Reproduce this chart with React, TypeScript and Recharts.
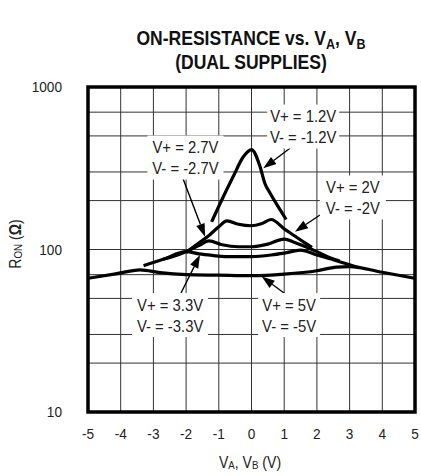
import React from 'react';
import {
  LineChart,
  Line,
  XAxis,
  YAxis,
  CartesianGrid,
  ReferenceArea,
  ReferenceLine,
  ReferenceDot,
} from 'recharts';

// ---------- axis ticks ----------
const xTicks = [-5, -4, -3, -2, -1, 0, 1, 2, 3, 4, 5];
const yTicks = [10, 20, 30, 40, 50, 60, 70, 80, 90, 100, 200, 300, 400, 500, 600, 700, 800, 900, 1000];
const yLabelTicks = [10, 100, 1000];

// ---------- series (V_A in volts, R_ON in ohms) ----------
const v12 = [-1.22, -0.96, -0.56, -0.25, 0, 0.26, 0.41, 0.57, 0.82, 1.06];
const r12 = [148, 192, 281, 372, 412, 324, 255, 222, 183, 153];

const v20 = [-2, -1.6, -1.3, -1.0, -0.75, -0.4, 0, 0.3, 0.6, 1.0, 1.3, 1.6, 1.85];
const r20 = [96, 110, 122, 138, 150, 143, 140, 144, 153, 134, 122, 111, 103];

const v27 = [-2.7, -2.3, -2.0, -1.6, -1.3, -0.9, -0.4, 0, 0.5, 1.0, 1.3, 1.6, 2.0, 2.4, 2.7];
const r27 = [87, 92, 97, 106, 113, 107, 104, 104, 108, 116, 111, 105, 97, 89, 85];

const v33 = [-3.3, -2.7, -2.0, -1.6, -1.2, -0.8, 0, 0.6, 1.0, 1.5, 2.0, 2.5, 3.0, 3.3];
const r33 = [79.5, 87, 97, 94, 92, 90.5, 90.5, 92.5, 95, 99, 92.5, 86.5, 80.5, 77];

const v50 = [-5, -4.2, -3.4, -2.8, -2, -1, 0, 1, 2, 2.6, 3.0, 4, 5];
const r50 = [66.5, 70.5, 75, 72, 70, 69.5, 69, 70.5, 74, 78, 78.5, 72.4, 66.5];

// ---------- annotations ----------
const labelTop = ['V+ = 1.2V', 'V+ = 2.7V', 'V+ = 2V', 'V+ = 3.3V', 'V+ = 5V'];
const labelBottom = ['V- = -1.2V', 'V- = -2.7V', 'V- = -2V', 'V- = -3.3V', 'V- = -5V'];
const labelV = [1.58, -2.02, 3.1, -2.49, 1.15];
const labelR = [571, 368, 209, 39.5, 39.5];
const labelW = [72, 76, 66, 76, 62];

const arrowTailV = [1.177, -2.125, 2.095, -2.156, 0.994];
const arrowTailR = [420, 283, 163, 54, 54];
const arrowTipV = [0.361, -1.42, 1.33, -1.575, 0.312];
const arrowTipR = [316, 120, 128.7, 92.5, 68.1];

const FONT = "'Liberation Sans', Arial, sans-serif";

const toRows = (vs: number[], rs: number[]) => vs.map((v, i) => ({ v, r: rs[i] }));

const series = [
  { name: '1.2V', data: toRows(v12, r12) },
  { name: '2V', data: toRows(v20, r20) },
  { name: '2.7V', data: toRows(v27, r27) },
  { name: '3.3V', data: toRows(v33, r33) },
  { name: '5V', data: toRows(v50, r50) },
];

const CText = (props: any) => {
  const { x, y, anchor = 'middle', size = 16, sx = 0.88, rotate = 0, weight = 'normal', children } = props;
  return (
    <text
      transform={`translate(${x},${y}) rotate(${rotate}) scale(${sx},1)`}
      x={0}
      y={0}
      textAnchor={anchor}
      dominantBaseline="central"
      fontSize={size}
      fontWeight={weight}
      fontFamily={FONT}
      fill="#222"
    >
      {children}
    </text>
  );
};

const YTick = (props: any) => {
  const { y, payload } = props;
  if (!yLabelTicks.includes(payload.value)) return <g />;
  return (
    <CText x={62} y={y} anchor="end" size={15.5} sx={0.88}>
      {payload.value}
    </CText>
  );
};

const XTick = (props: any) => {
  const { x, payload } = props;
  return (
    <CText x={x} y={434} size={15.5} sx={0.88}>
      {payload.value}
    </CText>
  );
};

const Arrow = (p: any) => {
  const { x1, y1, x2, y2 } = p;
  const dx = x2 - x1;
  const dy = y2 - y1;
  const len = Math.hypot(dx, dy) || 1;
  const ux = dx / len;
  const uy = dy / len;
  const hl = 13;
  const hw = 4.5;
  const bx = x2 - ux * hl;
  const by = y2 - uy * hl;
  const pts = `${x2},${y2} ${bx - uy * hw},${by + ux * hw} ${bx + uy * hw},${by - ux * hw}`;
  return (
    <g>
      <line x1={x1} y1={y1} x2={bx} y2={by} stroke="#000" strokeWidth={1.4} />
      <polygon points={pts} fill="#000" />
    </g>
  );
};

const makeLabel = (i: number) => (p: any) => {
  const { cx, cy } = p;
  const w = labelW[i];
  const h = 44;
  return (
    <g>
      <rect x={cx - w / 2} y={cy - h / 2} width={w} height={h} fill="#fff" />
      <CText x={cx} y={cy - 10} size={16.5} sx={0.9}>
        {labelTop[i]}
      </CText>
      <CText x={cx} y={cy + 11} size={16.5} sx={0.9}>
        {labelBottom[i]}
      </CText>
    </g>
  );
};

const subStyle: React.CSSProperties = { fontSize: 15, position: 'relative', top: 4, lineHeight: 0 };

export default function App() {
  return (
    <div style={{ position: 'absolute', left: 0, top: 0, width: 421, height: 476, background: '#fff' }}>
      <div
        style={{
          position: 'absolute',
          left: 1,
          top: 26,
          width: 500,
          textAlign: 'center',
          fontFamily: FONT,
          fontWeight: 'bold',
          fontSize: 21,
          lineHeight: '24px',
          color: '#111',
          transform: 'scaleX(0.835)',
          transformOrigin: '250px 0',
        }}
      >
        <div style={{ height: 24 }}>
          ON-RESISTANCE vs. V<span style={subStyle}>A</span>, V<span style={subStyle}>B</span>
        </div>
        <div style={{ height: 24 }}>(DUAL SUPPLIES)</div>
      </div>
      <div style={{ position: 'absolute', left: 0, top: 0 }}>
        <LineChart width={421} height={476} margin={{ top: 87, right: 6, bottom: 34, left: 0 }}>
          <CartesianGrid stroke="#333" strokeWidth={1} />
          <XAxis
            dataKey="v"
            type="number"
            domain={[-5, 5]}
            ticks={xTicks}
            allowDataOverflow
            axisLine={false}
            tickLine={false}
            height={30}
            tick={<XTick />}
            label={{
              content: () => (
                <CText x={250} y={462} size={16} sx={0.88}>
                  V<tspan fontSize={11} dy={3}>A</tspan>
                  <tspan dy={-3}>, V</tspan>
                  <tspan fontSize={11} dy={3}>B</tspan>
                  <tspan dy={-3}> (V)</tspan>
                </CText>
              ),
            }}
          />
          <YAxis
            dataKey="r"
            type="number"
            scale="log"
            domain={[10, 1000]}
            ticks={yTicks}
            allowDataOverflow
            axisLine={false}
            tickLine={false}
            width={88}
            tick={<YTick />}
            label={{
              content: () => (
                <CText x={15} y={244} rotate={-90} size={16} sx={0.88}>
                  R<tspan fontSize={11} dy={3}>ON</tspan>
                  <tspan dy={-3}> (</tspan>
                  <tspan fontWeight="bold">Ω</tspan>
                  <tspan>)</tspan>
                </CText>
              ),
            }}
          />
          <ReferenceArea x1={-5} x2={5} y1={10} y2={1000} fill="none" fillOpacity={0} stroke="#000" strokeWidth={3.5} />
          {series.map((s) => (
            <Line
              key={s.name}
              data={s.data}
              dataKey="r"
              type="monotone"
              stroke="#000"
              strokeWidth={3.2}
              dot={false}
              activeDot={false}
              isAnimationActive={false}
            />
          ))}
          {labelTop.map((_, i) => (
            <ReferenceLine
              key={'a' + i}
              segment={[
                { x: arrowTailV[i], y: arrowTailR[i] },
                { x: arrowTipV[i], y: arrowTipR[i] },
              ]}
              shape={Arrow}
            />
          ))}
          {labelTop.map((_, i) => (
            <ReferenceDot key={'l' + i} x={labelV[i]} y={labelR[i]} r={0} shape={makeLabel(i)} />
          ))}
        </LineChart>
      </div>
    </div>
  );
}
